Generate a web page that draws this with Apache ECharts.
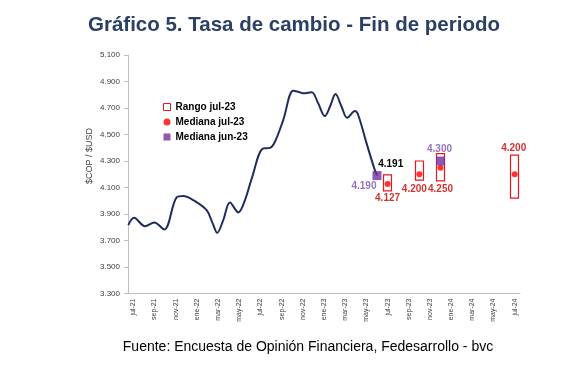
<!DOCTYPE html>
<html>
<head>
<meta charset="utf-8">
<script src="https://cdn.jsdelivr.net/npm/echarts@6/dist/echarts.min.js"></script>
<style>
html,body{margin:0;padding:0;background:#fff;}
#chart{width:573px;height:375px;}
</style>
</head>
<body>
<div id="chart"></div>
<script>
// ---- Data ----
const categories = ['jul-21','ago-21','sep-21','oct-21','nov-21','dic-21',
  'ene-22','feb-22','mar-22','abr-22','may-22','jun-22','jul-22','ago-22','sep-22','oct-22','nov-22','dic-22',
  'ene-23','feb-23','mar-23','abr-23','may-23','jun-23','jul-23','ago-23','sep-23','oct-23','nov-23','dic-23',
  'ene-24','feb-24','mar-24','abr-24','may-24','jun-24','jul-24'];

// Observed exchange rate: position in months since 1 jul-21, and value
const linePos = [0.03,0.57,1.60,2.48,3.42,4.59,5.22,6.16,7.42,7.99,8.42,8.99,9.62,10.41,11.04,11.67,
  12.76,13.40,13.87,14.65,15.59,16.04,16.54,17.33,17.95,18.58,19.06,19.59,20.16,20.69,21.42,21.73,22.52,23.30,23.52];
const lineVal = [3816,3871,3808,3836,3783,4025,4035,4005,3929,3829,3758,3854,3987,3912,4005,4165,
  4395,4399,4445,4609,4830,4823,4811,4818,4735,4639,4709,4805,4709,4626,4677,4647,4433,4231,4191];

// Survey jul-23
const forecastMonths = ['jul-23','oct-23','dic-23','jul-24'];
const rangeLow  = [4075,4155,4150,4020];
const rangeHigh = [4195,4300,4355,4345];
const medianJul = [4127,4200,4250,4200];

// Survey jun-23
const junMonths = ['jun-23','dic-23'];
const medianJun = [4190,4300];

const yTicks = {min:3300, max:5100, step:200};

// ---- Styles ----
const RED = '#ff0000', BOX = '#e8161d', RED_LBL = '#c00000';
const PURPLE = '#7030a0', PURPLE_LBL = '#7a50b0';
const julLabelOffsets = [[0,14],[-5,15],[0,22],[-1,-26]];
const junLabelOffsets = [[-13,11],[-1,-12]];
const fmt = v => (v/1000).toFixed(3);
const F = 'Liberation Sans, Arial, sans-serif';

const candleData = categories.map(c => {
  const i = forecastMonths.indexOf(c);
  return i < 0 ? '-' : [rangeLow[i], rangeHigh[i], rangeLow[i], rangeHigh[i]];
});
const julData = forecastMonths.map((m,i)=>({
  value:[m, medianJul[i]],
  label:{show:true, position:'inside', offset:julLabelOffsets[i], formatter: fmt(medianJul[i])}
}));
const junData = junMonths.map((m,i)=>({
  value:[m, medianJun[i]],
  label:{show:true, position:'inside', offset:junLabelOffsets[i], formatter: fmt(medianJun[i]), color:PURPLE_LBL}
}));

const chart = echarts.init(document.getElementById('chart'), null, {renderer:'canvas'});
chart.setOption({
  animation:false,
  backgroundColor:'#fff',
  title:{
    text:'Gráfico 5. Tasa de cambio - Fin de periodo',
    left:83, top:10,
    textStyle:{fontFamily:F, fontSize:20.5, fontWeight:'bold', color:'#2b4064'}
  },
  graphic:[
    {type:'text', x:90, y:156, rotation:Math.PI/2,
     style:{text:'$COP / $USD', font:'9px '+F, fill:'#404040', textAlign:'center', textVerticalAlign:'middle'}},
    {type:'text', x:308, y:347,
     style:{text:'Fuente: Encuesta de Opinión Financiera, Fedesarrollo - bvc', font:'14px '+F, fill:'#000', textAlign:'center', textVerticalAlign:'middle'}}
  ],
  legend:{
    orient:'vertical', left:158, top:96, itemWidth:7, itemHeight:7, itemGap:3,
    textStyle:{fontFamily:F, fontSize:10, fontWeight:'bold', color:'#000', lineHeight:12},
    data:[
      {name:'Rango jul-23', icon:'rect', itemStyle:{color:'#fff', borderColor:BOX, borderWidth:1}},
      {name:'Mediana jul-23', icon:'circle', itemStyle:{color:RED}},
      {name:'Mediana jun-23', icon:'rect', itemStyle:{color:PURPLE}}
    ]
  },
  grid:{left:128, right:53, top:55, bottom:81.5},
  xAxis:[
    {type:'category', data:categories, boundaryGap:true,
     axisLine:{lineStyle:{color:'#bfbfbf'}}, axisTick:{show:false},
     axisLabel:{interval:1, rotate:90, fontFamily:F, fontSize:7, color:'#404040', margin:5}},
    {type:'value', min:0, max:categories.length, show:false}
  ],
  yAxis:{
    type:'value', min:yTicks.min, max:yTicks.max, interval:yTicks.step,
    axisLine:{show:true, lineStyle:{color:'#bfbfbf'}},
    axisTick:{show:true, length:4, lineStyle:{color:'#bfbfbf'}},
    splitLine:{show:false},
    axisLabel:{fontFamily:F, fontSize:8, color:'#404040', margin:8, formatter:fmt}
  },
  series:[
    {type:'line', xAxisIndex:1, data:linePos.map((p,i)=>[p, lineVal[i]]),
     smooth:0.35, showSymbol:false, symbol:'none',
     lineStyle:{color:'#1f2d5c', width:2}, z:2,
     endLabel:{show:true, formatter:p=>fmt(p.value[1]), offset:[-7,-11],
       fontFamily:F, fontSize:10, fontWeight:'bold', color:'#000'}},
    {name:'Rango jul-23', type:'candlestick', xAxisIndex:0, data:candleData,
     barWidth:9,
     itemStyle:{color:'rgba(0,0,0,0)', color0:'rgba(0,0,0,0)', borderColor:BOX, borderColor0:BOX, borderWidth:1.2}, z:3},
    {name:'Mediana jul-23', type:'scatter', xAxisIndex:0, data:julData, symbol:'circle', symbolSize:6,
     itemStyle:{color:RED}, z:4,
     label:{fontFamily:F, fontSize:10, fontWeight:'bold', color:RED_LBL}},
    {name:'Mediana jun-23', type:'scatter', xAxisIndex:0, data:junData, symbol:'rect', symbolSize:9,
     itemStyle:{color:PURPLE}, z:5,
     label:{fontFamily:F, fontSize:10, fontWeight:'bold', color:PURPLE_LBL}}
  ]
});
</script>
</body>
</html>
